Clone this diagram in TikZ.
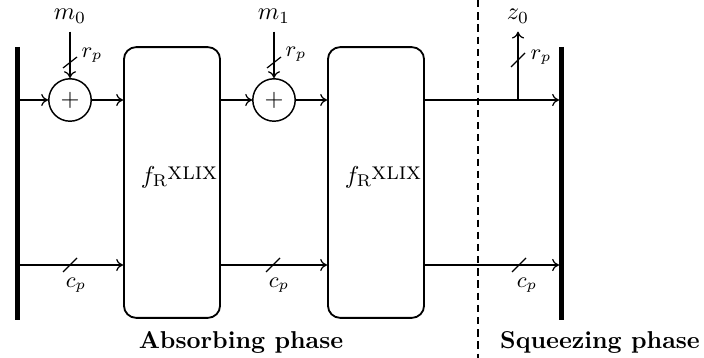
\documentclass[tikz,border=0pt]{standalone}
\usetikzlibrary{arrows.meta}
\begin{document}
\begin{tikzpicture}[x={(0.41pt,0)},y={(0,-0.41pt)},
  arr/.style={line width=0.5pt,-{To[length=2.8pt,width=5pt]}},
  bar/.style={line width=2.1pt},
  fbox/.style={draw,line width=0.75pt,rounded corners=5pt,minimum width=39.4pt,minimum height=111pt,inner sep=0pt},
  xorc/.style={draw,circle,line width=0.6pt,minimum size=17.4pt,inner sep=0pt},
  slash/.style={line width=0.5pt},
  small/.style={font=\small},
  phase/.style={font=\bfseries}]
\useasboundingbox (0,0) rectangle (704,358);
% bars
\coordinate (lbt) at (17.5,47); \coordinate (lbb) at (17.5,320);
\coordinate (rbt) at (561.5,47); \coordinate (rbb) at (561.5,320);
\draw[bar] (lbt) -- (lbb);
\draw[bar] (rbt) -- (rbb);
% boxes
\node[fbox] (f1) at (172,182.5) {};
\node[fbox] (f2) at (376,182.5) {};
\node (l1) at (179,177) {$f_{\mathrm{R}}$\kern-0.3pt\raisebox{1.6pt}{\textsc{xlix}}};
\node (l2) at (383,177) {$f_{\mathrm{R}}$\kern-0.3pt\raisebox{1.6pt}{\textsc{xlix}}};
% xor circles
\node[xorc] (c1) at (70,100) {$+$};
\node[xorc] (c2) at (274,100) {$+$};
% inputs
\node (m0) at (70,16) {$m_0$};
\node (m1) at (274,16) {$m_1$};
\node (z0) at (518,16) {$z_0$};
% coordinates
\coordinate (lt) at (20,100); \coordinate (lb) at (20,265);
\coordinate (rt) at (559,100); \coordinate (rb) at (559,265);
\coordinate (zb) at (518,100);
% top row
\draw[arr] (lt) -- (c1);
\draw[arr] (c1) -- (f1.west |- c1);
\draw[arr] (f1.east |- c1) -- (c2);
\draw[arr] (c2) -- (f2.west |- c2);
\draw[arr] (f2.east |- c2) -- (rt);
\draw[arr] (zb) -- (z0);
\draw[arr] (m0) -- (c1);
\draw[arr] (m1) -- (c2);
% bottom row
\draw[arr] (lb) -- (f1.west |- lb);
\draw[arr] (f1.east |- lb) -- (f2.west |- lb);
\draw[arr] (f2.east |- lb) -- (rb);
% slashes
\draw[slash] (63,68) -- (77,57);
\draw[slash] (267,68) -- (281,57);
\draw[slash] (511,67) -- (525,53);
\draw[slash] (63,272) -- (77,258);
\draw[slash] (266,272) -- (280,258);
\draw[slash] (512,272) -- (526,258);
% labels
\node[small] (r1) at (92,55) {$r_p$};
\node[small] (r2) at (296,54) {$r_p$};
\node[small] (r3) at (541,57) {$r_p$};
\node[small] (k1) at (76,285) {$c_p$};
\node[small] (k2) at (279,285) {$c_p$};
\node[small] (k3) at (527,285) {$c_p$};
% dashed separator
\coordinate (dt) at (478,0); \coordinate (db) at (478,358);
\draw[line width=0.5pt,dash pattern=on 3pt off 2pt] (dt) -- (db);
% phases
\node[phase] (pa) at (241,342) {Absorbing phase};
\node[phase] (ps) at (600,342) {Squeezing phase};
\end{tikzpicture}
\end{document}
